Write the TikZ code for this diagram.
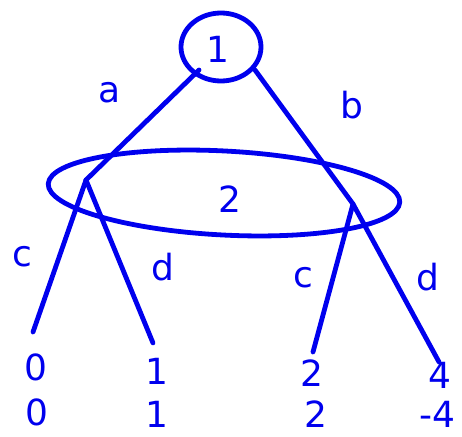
\documentclass[tikz,border=0pt]{standalone}
\usepackage{fontspec}
\setmainfont{DejaVu Sans}
\usetikzlibrary{shapes.geometric}
\definecolor{pen}{RGB}{0,0,238}
\begin{document}
\begin{tikzpicture}[x=1pt,y=-1pt,
  line/.style={draw=pen,line width=4.8pt,line cap=round,line join=round},
  lab/.style={text=pen,font=\fontsize{36}{36}\selectfont,inner sep=0pt},
  pay/.style={text=pen,font=\fontsize{36}{36}\selectfont,inner sep=0pt}]
\useasboundingbox (0,0) rectangle (462,436);
% root
\node[line,ellipse,minimum width=80pt,minimum height=68pt,inner sep=0pt] (root) at (221,47) {};
\node[lab] (rl) at (218,49) {1};
% info set
\draw[line,rotate around={-3:(224,193)}] (224,193) ellipse [x radius=176, y radius=42];
\node[lab] (il) at (230,199) {2};
% decision points
\coordinate (L) at (86,180);
\coordinate (R) at (353,204);
\coordinate (rA) at (199,70);
\coordinate (rB) at (255,70);
\draw[line] (rA) -- (L);
\draw[line] (rB) -- (R);
\node[lab] (la) at (110,93) {a};
\node[lab] (lb) at (352,105) {b};
% leaves
\coordinate (l1) at (33,332);
\coordinate (l2) at (153,343);
\coordinate (l3) at (313,352);
\coordinate (l4) at (439,362);
\draw[line] (L) -- (l1);
\draw[line] (L) -- (l2);
\draw[line] (R) -- (l3);
\draw[line] (R) -- (l4);
\node[lab] (lc1) at (22,257) {c};
\node[lab] (ld1) at (163,267) {d};
\node[lab] (lc2) at (303,278) {c};
\node[lab] (ld2) at (428,277) {d};
% payoffs
\node[pay] (p1a) at (36,367) {0};
\node[pay] (p1b) at (37,412) {0};
\node[pay] (p2a) at (157,371) {1};
\node[pay] (p2b) at (157,414) {1};
\node[pay] (p3a) at (312,373) {2};
\node[pay] (p3b) at (316,414) {2};
\node[pay] (p4a) at (440,375) {4};
\node[pay] (p4b) at (437,414) {-4};
\end{tikzpicture}
\end{document}
